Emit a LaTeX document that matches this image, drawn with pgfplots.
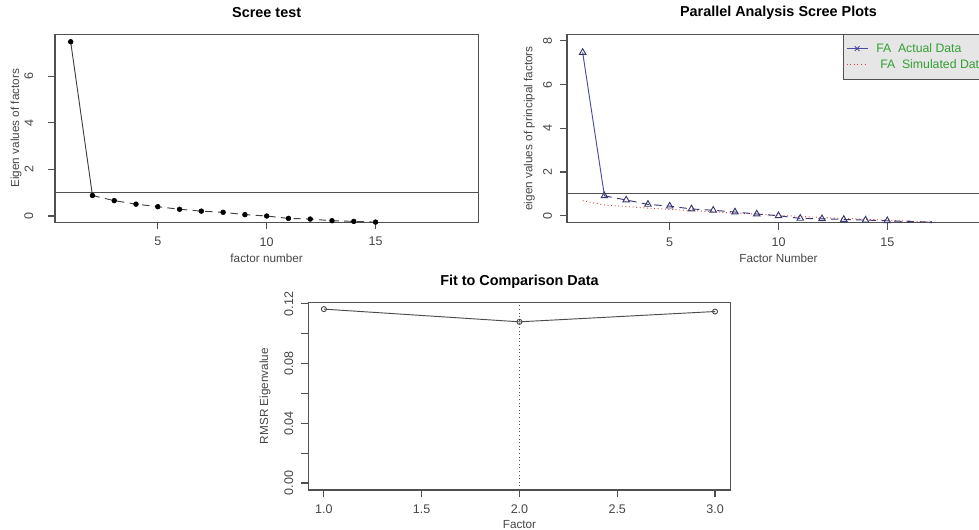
\documentclass[border=0pt]{standalone}
\usepackage{fontspec}
\setmainfont{Liberation Sans}
\usepackage{pgfplots}
\pgfplotsset{compat=1.18}

\definecolor{axgray}{RGB}{80,80,80}
\definecolor{txtgray}{RGB}{70,70,70}
\definecolor{fablue}{RGB}{75,75,160}
\definecolor{fanavy}{RGB}{55,55,110}
\definecolor{simred}{RGB}{205,70,70}
\definecolor{leggreen}{RGB}{50,160,50}
\definecolor{legfill}{RGB}{230,230,230}

\pgfplotsset{
  rplot/.style={
    scale only axis,
    anchor=south west,
    axis line style={axgray, line width=0.8pt},
    tick style={axgray, line width=0.8pt},
    tick align=outside,
    major tick length=5.25pt,
    xtick pos=bottom, ytick pos=left,
    /pgf/number format/assume math mode=true,
    tick label style={font=\fontsize{9.4}{11}\selectfont, text=txtgray},
    label style={font=\fontsize{8.8}{10}\selectfont, text=txtgray},
    title style={font=\bfseries\fontsize{10.8}{13}\selectfont, anchor=center},
    xticklabel shift=2.5pt,
    yticklabel style={rotate=90, anchor=south},
    yticklabel shift=2.5pt,
  },
}

\begin{document}
\begin{tikzpicture}
\path[use as bounding box] (0,0) rectangle (734.25pt,396.75pt);
\clip (0,0) rectangle (734.25pt,396.75pt);

% Scree test
\begin{axis}[rplot,
  at={(41.25pt,230pt)}, width=317.5pt, height=141.2pt,
  xmin=0.28, xmax=19.72, ymin=-0.27, ymax=7.8,
  xtick={5,10,15}, ytick={0,2,4,6},
  yticklabel shift=7.5pt,
  title={Scree test}, title style={at={(axis description cs:0.5,1.072)}},
  xlabel={factor number}, xlabel style={at={(axis description cs:0.5,-0.191)}, anchor=center},
  ylabel={Eigen values of factors}, ylabel style={at={(axis description cs:-0.092,0.5)}, anchor=center},
]
\addplot[axgray, line width=0.8pt] coordinates {(0,1) (20,1)};
\addplot[black!75, line width=0.7pt] coordinates {(1,7.47) (2,0.88)};
\addplot[black!75, line width=0.7pt, dash pattern=on 5.5pt off 4pt] coordinates {
  (2,0.88) (3,0.66) (4,0.51) (5,0.40) (6,0.29) (7,0.21) (8,0.16) (9,0.06)
  (10,0.00) (11,-0.10) (12,-0.13) (13,-0.20) (14,-0.23) (15,-0.26)};
\addplot[only marks, mark=*, mark size=1.8pt, black] coordinates {
  (1,7.47) (2,0.88) (3,0.66) (4,0.51) (5,0.40) (6,0.29) (7,0.21) (8,0.16) (9,0.06)
  (10,0.00) (11,-0.10) (12,-0.13) (13,-0.20) (14,-0.23) (15,-0.26)};
\end{axis}

% Parallel analysis
\begin{axis}[rplot,
  at={(425.25pt,229.7pt)}, width=317.25pt, height=141.5pt,
  xmin=0.28, xmax=19.72, ymin=-0.32, ymax=8.31,
  xtick={5,10,15}, ytick={0,2,4,6,8},
  title={Parallel Analysis Scree Plots}, title style={at={(axis description cs:0.5,1.072)}},
  xlabel={Factor Number}, xlabel style={at={(axis description cs:0.5,-0.191)}, anchor=center},
  ylabel={eigen values of principal factors}, ylabel style={at={(axis description cs:-0.089,0.5)}, anchor=center},
  legend style={at={(axis description cs:0.6525,1)}, anchor=north west, fill=legfill,
    draw=axgray, line width=0.6pt, text=leggreen, font=\fontsize{9.2}{10}\selectfont,
    inner xsep=2pt, inner ysep=4.5pt, row sep=0pt, cells={anchor=west}},
  legend image code/.code={\draw[mark repeat=2,mark phase=2,#1] plot coordinates {(0.05cm,0cm) (0.33cm,0cm) (0.61cm,0cm)};},
]
\addplot[axgray, line width=0.8pt, forget plot] coordinates {(0,1) (20,1)};
\addplot[simred, line width=0.7pt, dotted, forget plot] coordinates {
  (1,0.69) (2,0.49) (3,0.42) (4,0.35) (5,0.29) (6,0.24) (7,0.18) (8,0.12) (9,0.07)
  (10,0.02) (11,-0.03) (12,-0.08) (13,-0.12) (14,-0.16) (15,-0.21) (16,-0.25) (17,-0.29)};
\addplot[fablue, line width=0.7pt, forget plot] coordinates {(1,7.47) (2,0.91)};
\addplot[fanavy, line width=0.7pt, dash pattern=on 5.5pt off 4pt, forget plot] coordinates {
  (2,0.91) (3,0.72) (4,0.52) (5,0.44) (6,0.31) (7,0.25) (8,0.17) (9,0.08)
  (10,0.00) (11,-0.12) (12,-0.14) (13,-0.17) (14,-0.20) (15,-0.23) (16,-0.27) (17,-0.29)};
\addplot[only marks, mark=triangle, mark size=2.8pt, fanavy, mark options={line width=0.7pt, fill=white}, forget plot] coordinates {
  (1,7.47) (2,0.91) (3,0.72) (4,0.52) (5,0.44) (6,0.31) (7,0.25) (8,0.17) (9,0.08)
  (10,0.00) (11,-0.12) (12,-0.14) (13,-0.17) (14,-0.20) (15,-0.23)};
\addplot[only marks, mark=x, mark size=1.2pt, fanavy, forget plot] coordinates {(16,-0.27) (17,-0.29)};
\addlegendimage{fablue, line width=0.7pt, mark=x, mark size=2.5pt}
\addlegendentry{\hspace{4pt}FA\ \ Actual Data}
\addlegendimage{simred, line width=0.7pt, dotted}
\addlegendentry{\hspace{7pt}FA\ \ Simulated Data}
\end{axis}

% Fit to comparison data
\begin{axis}[rplot,
  at={(231.2pt,29.25pt)}, width=316.8pt, height=140.8pt,
  xmin=0.92, xmax=3.08, ymin=-0.0047, ymax=0.1211,
  xtick={1,1.5,2,2.5,3}, xticklabels={1.0,1.5,2.0,2.5,3.0},
  ytick={0,0.02,0.04,0.06,0.08,0.10,0.12},
  yticklabels={0.00,,0.04,,0.08,,0.12},
  title={Fit to Comparison Data}, title style={at={(axis description cs:0.5,1.069)}},
  xlabel={Factor}, xlabel style={at={(axis description cs:0.5,-0.186)}, anchor=center},
  ylabel={RMSR Eigenvalue}, ylabel style={at={(axis description cs:-0.102,0.5)}, anchor=center},
]
\addplot[axgray, line width=0.7pt, dotted] coordinates {(2,-0.0047) (2,0.1211)};
\addplot[black!70, line width=0.7pt, mark=o, mark size=1.9pt] coordinates {
  (1,0.1165) (2,0.108) (3,0.1149)};
\end{axis}
\end{tikzpicture}
\end{document}
